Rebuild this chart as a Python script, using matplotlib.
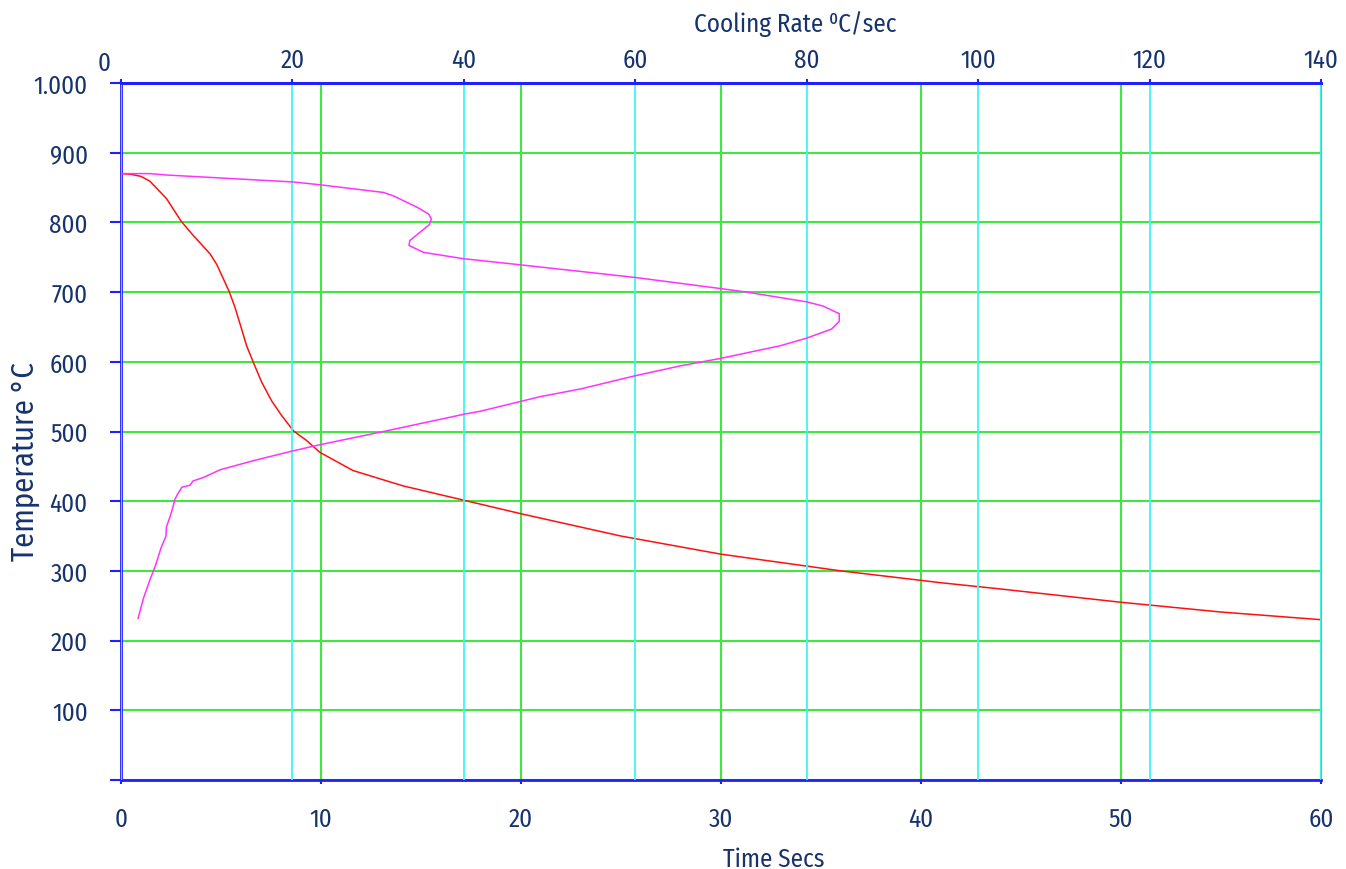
import matplotlib
matplotlib.use('Agg')
import matplotlib.pyplot as plt

plt.rcParams['font.family'] = ['Fira Sans Condensed', 'DejaVu Sans']
plt.rcParams['font.weight'] = 400
plt.rcParams['axes.labelweight'] = 400

# red curve: time (s) vs temperature (C)
time_s = [0, 0.5, 1.0, 1.45, 2.28, 3.0, 3.62, 4.45, 4.78, 5.12, 5.42, 5.7, 6.03,
          6.28, 6.62, 7.03, 7.53, 8.03, 8.62, 9.28, 9.95, 11.6, 14.1, 17.2,
          20, 25, 30, 36, 41, 44, 50, 55, 60]
temp_time = [870, 869, 866, 859, 834, 802, 781, 755, 740, 719, 700, 678, 647,
             623, 599, 571, 544, 523, 501, 487, 470, 444, 422, 401,
             382, 350, 324, 300, 283, 274, 255, 241, 230]

# magenta curve: cooling rate (C/s) vs temperature (C)
rate = [0.0, 3.4, 5.3, 20.1, 23.2, 30.6, 31.8, 34.5, 35.9, 36.2, 36.0, 34.9, 33.7,
        33.6, 34.1, 35.3, 39.9, 46.7, 60.0, 70.0, 73.0, 80.0, 81.9, 83.8, 83.8,
        82.9, 80.0, 76.9, 70.0, 65.2, 60.0, 53.6, 48.9, 41.9, 40.1, 31.0, 23.2,
        20.0, 15.4, 11.55, 9.6, 8.4, 8.05, 7.1, 6.6, 6.3, 6.0, 5.7, 5.3, 5.25,
        4.7, 4.0, 3.4, 2.6, 2.0]
temp_rate = [870, 870, 868, 858, 854, 843, 838, 822, 812, 805, 797, 786, 774,
             767, 764, 757, 748, 739, 721, 705, 700, 686, 680, 669, 658,
             647, 634, 623, 605, 594, 580, 561, 550, 529, 525, 501, 481,
             472, 458, 445, 434, 429, 423, 420, 410, 403, 389, 377, 363, 350,
             334, 307, 288, 260, 232]

time_ticks = [0, 10, 20, 30, 40, 50, 60]
rate_ticks = [0, 20, 40, 60, 80, 100, 120, 140]
temp_ticks = [100, 200, 300, 400, 500, 600, 700, 800, 900, 1000]
temp_labels = ['100', '200', '300', '400', '500', '600', '700', '800', '900', '1.000']

navy = '#17336e'
blue = '#1f1fff'
green = '#3ee83e'
cyan = '#3ff5f5'

fig = plt.figure(figsize=(13.46, 8.70), dpi=100)
ax = fig.add_axes([121 / 1346, 1 - 781 / 870, 1200 / 1346, 697 / 870])
ax.set_xlim(0, 60)
ax.set_ylim(0, 1000)

ax.set_xticks(time_ticks)
ax.set_yticks(temp_ticks + [0])
ax.set_yticklabels(temp_labels + [''])
ax.grid(True, color=green, linewidth=1.5, zorder=0)
ax.set_axisbelow(True)
ax.tick_params(axis='y', direction='out', length=8, width=1.5, color=blue,
               pad=16, labelsize=18, labelcolor=navy)
ax.tick_params(axis='x', direction='out', length=3, width=1.5, color=blue,
               pad=16, labelsize=18, labelcolor=navy)
for side in ['left', 'bottom', 'top']:
    ax.spines[side].set_color(blue)
    ax.spines[side].set_linewidth(2)
ax.spines['right'].set_color(green)
ax.spines['right'].set_linewidth(1.5)

ax.plot(time_s, temp_time, color='#ff1010', linewidth=1.1, zorder=3)

ax2 = ax.twiny()
ax2.set_xlim(0, 140)
ax2.set_xticks(rate_ticks)
ax2.set_xticklabels([''] + [str(v) for v in rate_ticks[1:]])
ax2.grid(True, axis='x', color=cyan, linewidth=1.3)
ax2.tick_params(axis='x', direction='out', length=3, width=1.5, color=blue,
                pad=5, labelsize=18, labelcolor=navy)
for side in ['left', 'bottom', 'right']:
    ax2.spines[side].set_visible(False)
ax2.spines['top'].set_color(blue)
ax2.spines['top'].set_linewidth(2)
ax2.annotate('0', xy=(-2.0, 1.0), xycoords=('data', 'axes fraction'),
             xytext=(0, 6), textcoords='offset points', ha='center', va='bottom',
             fontsize=18, color=navy, annotation_clip=False)

ax2.plot(rate, temp_rate, color='#ff33ff', linewidth=1.1, zorder=3)

ax.set_xlabel('Time Secs', fontsize=18, color=navy)
ax.xaxis.set_label_coords(0.544, -0.095)
ax.set_ylabel('Temperature °C', fontsize=22, color=navy)
ax.yaxis.set_label_coords(-0.0675, 0.458)
ax2.set_xlabel('Cooling Rate \u2070C/sec', fontsize=18, color=navy)
ax2.xaxis.set_label_coords(0.562, 1.074)

fig.savefig('out.png', dpi=100)
